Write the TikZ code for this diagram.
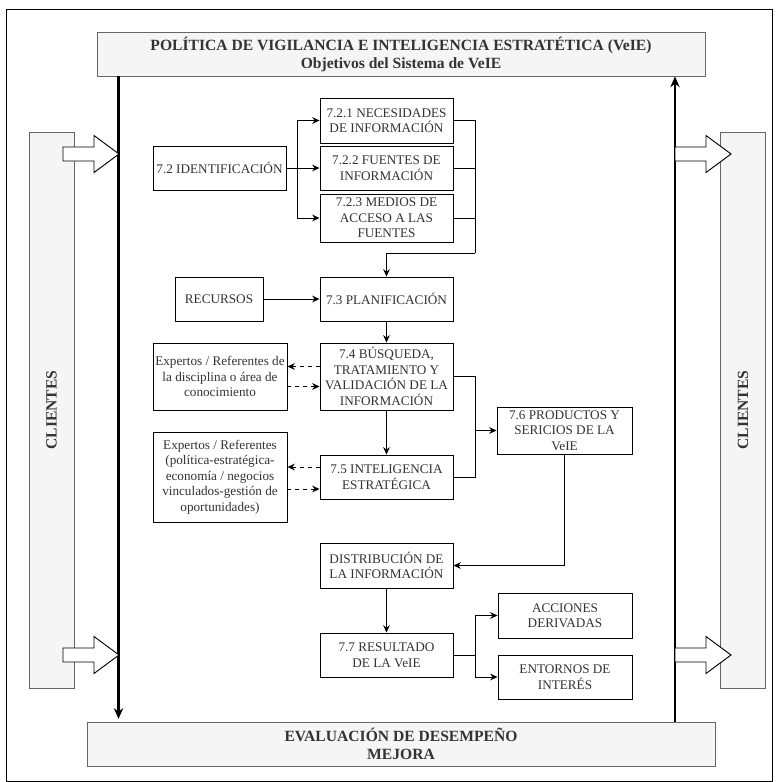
\documentclass[tikz,border=0pt]{standalone}
\usepackage{fontspec}
\setmainfont{Liberation Serif}
\usetikzlibrary{arrows.meta,positioning,calc}
\definecolor{txt}{HTML}{333333}
\definecolor{fondo}{HTML}{F5F5F5}
\definecolor{borde}{HTML}{666666}
\tikzset{
  caja/.style={draw, fill=white, text=txt, align=center, font=\fontsize{9.9}{11.6}\selectfont,
    minimum width=99.75pt, minimum height=33pt, inner sep=1pt},
  marco/.style={draw=borde, fill=fondo, text=txt, align=center, font=\bfseries\fontsize{11.7}{13.5}\selectfont},
  gruesa/.style={line width=1.6pt, -{Stealth[length=8pt,width=7pt]}},
  flecha/.style={-{Stealth[length=5.5pt,width=5pt]}},
  pics/bloque/.style={code={
    \draw[fill=white] (0,-7) -- (31,-7) -- (31,-18.5) -- (56,0) -- (31,18.5) -- (31,7) -- (0,7) -- cycle;}}
}
\begin{document}
\begin{tikzpicture}[x=0.75pt, y=-0.75pt, line width=0.7pt]
  \useasboundingbox (0,0) rectangle (777,782);
  \draw (6,9) rectangle (772,781);

  % marco general
  \node [marco, minimum width=456pt, minimum height=33pt] (politica) at (401,54)
    {POLÍTICA DE VIGILANCIA E INTELIGENCIA ESTRATÉTICA (VeIE)\\Objetivos del Sistema de VeIE};
  \node [marco, minimum width=471pt, minimum height=33pt] (evaluacion) at (401,744)
    {EVALUACIÓN DE DESEMPEÑO\\MEJORA};
  \node [marco, rotate=90, minimum width=417pt, minimum height=33.75pt] (clientesI) at (51.5,410) {CLIENTES};
  \node [marco, rotate=90, minimum width=417pt, minimum height=33.75pt] (clientesD) at (743,410) {CLIENTES};

  \coordinate (ejeI) at (118.5,0);
  \coordinate (ejeD) at (675,0);
  \draw [gruesa, shorten >=2pt] (politica.south -| ejeI) -- (evaluacion.north -| ejeI);
  \draw [gruesa] (evaluacion.north -| ejeD) -- (politica.south -| ejeD);

  \pic (entradaA) at (63,154) {bloque};
  \pic (entradaB) at (63,655) {bloque};
  \pic (salidaA) at (675,154) {bloque};
  \pic (salidaB) at (675,655) {bloque};

  % identificacion
  \node [caja] (ident) at (219.5,168) {7.2 IDENTIFICACIÓN};
  \node [caja, minimum height=33.75pt] (n721) at (386.5,120.5) {7.2.1 NECESIDADES\\DE INFORMACIÓN};
  \node [caja] (n722) at (386.5,168) {7.2.2 FUENTES DE\\INFORMACIÓN};
  \node [caja, minimum height=36pt] (n723) at (386.5,218) {7.2.3 MEDIOS DE\\ACCESO A LAS\\FUENTES};

  % planificacion y busqueda
  \node [caja, minimum width=66pt] (recursos) at (219,299) {RECURSOS};
  \node [caja] (n73) at (386.5,299) {7.3 PLANIFICACIÓN};
  \node [caja, minimum height=50.25pt] (n74) at (386.5,376.5) {7.4 BÚSQUEDA,\\TRATAMIENTO Y\\VALIDACIÓN DE LA\\INFORMACIÓN};
  \node [caja, minimum width=100.5pt, minimum height=50.25pt] (exp1) at (220,376.5)
    {Expertos / Referentes de\\la disciplina o área de\\conocimiento};
  \node [caja] (n75) at (386.5,477) {7.5 INTELIGENCIA\\ESTRATÉGICA};
  \node [caja, minimum width=100.5pt, minimum height=67.5pt] (exp2) at (220,477)
    {Expertos / Referentes\\(política-estratégica-\\economía / negocios\\vinculados-gestión de\\oportunidades)};
  \node [caja, minimum width=101.25pt, minimum height=35.25pt] (n76) at (564.5,430.5) {7.6 PRODUCTOS Y\\SERICIOS DE LA\\VeIE};

  % resultados
  \node [caja, minimum height=33.75pt] (distr) at (386.5,565.5) {DISTRIBUCIÓN DE\\LA INFORMACIÓN};
  \node [caja] (n77) at (386.5,655) {7.7 RESULTADO\\DE LA VeIE};
  \node [caja, minimum width=100.5pt, minimum height=33.75pt] (acciones) at (565,615.5) {ACCIONES\\DERIVADAS};
  \node [caja, minimum width=100.5pt] (entornos) at (565,677) {ENTORNOS DE\\INTERÉS};

  % conexiones
  \coordinate (bif1) at ($(ident.east)+(11,0)$);
  \draw (ident.east) -- (bif1);
  \draw [flecha] (bif1) |- (n721.west);
  \draw [flecha] (bif1) -- (n722.west);
  \draw [flecha] (bif1) |- (n723.west);
  \coordinate (col1) at (475,253);
  \draw (n721.east) -| (col1);
  \draw (n722.east) -- (n722.east -| col1);
  \draw (n723.east) -- (n723.east -| col1);
  \draw [flecha] (col1) -| (n73.north);
  \draw [flecha] (recursos) -- (n73);
  \draw [flecha] (n73) -- (n74);
  \draw [flecha] (n74) -- (n75);
  \draw [flecha, dashed] ($(n74.west)+(0,-10)$) -- ($(exp1.east)+(0,-10)$);
  \draw [flecha, dashed] ($(exp1.east)+(0,10)$) -- ($(n74.west)+(0,10)$);
  \draw [flecha, dashed] ($(n75.west)+(0,-10)$) -- ($(exp2.east)+(0,-10)$);
  \draw [flecha, dashed] ($(exp2.east)+(0,12)$) -- ($(n75.west)+(0,12)$);
  \coordinate (col2) at (475,430.5);
  \draw (n74.east) -| (col2);
  \draw (n75.east) -| (col2);
  \draw [flecha] (col2) -- (n76);
  \draw [flecha] (n76) |- (distr);
  \draw [flecha] (distr) -- (n77);
  \coordinate (bif2) at ($(n77.east)+(22,0)$);
  \draw (n77.east) -- (bif2);
  \draw [flecha] (bif2) |- (acciones);
  \draw [flecha] (bif2) |- (entornos);
\end{tikzpicture}
\end{document}
